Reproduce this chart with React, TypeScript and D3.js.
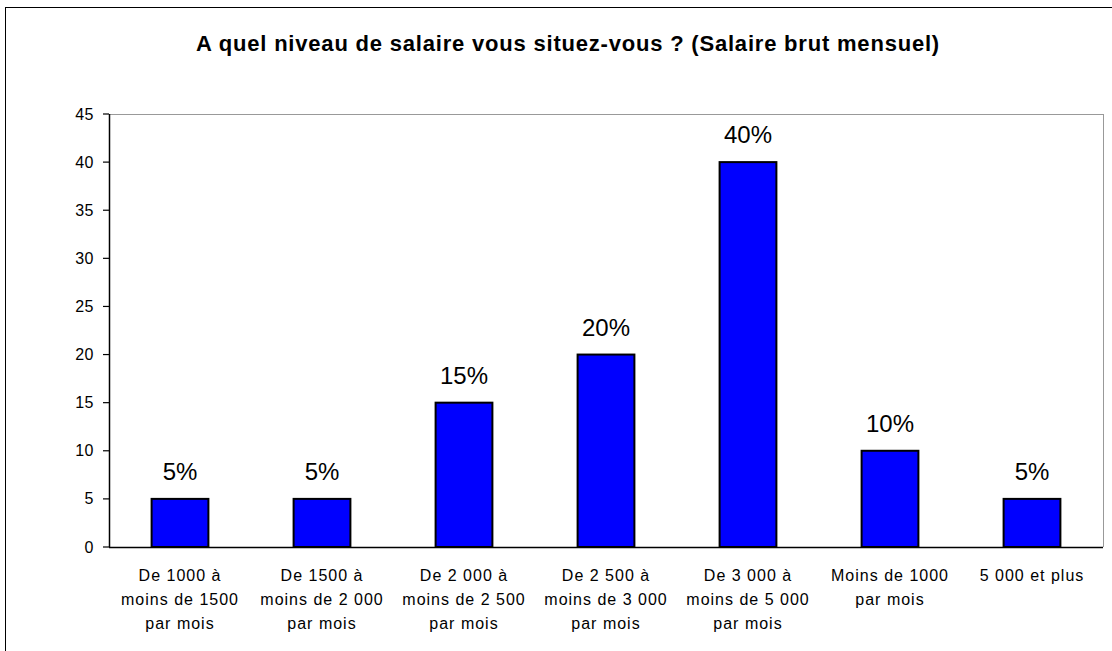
import React from 'react'
import { scaleBand, scaleLinear } from 'd3'

const title = 'A quel niveau de salaire vous situez-vous ? (Salaire brut mensuel)'
const categories = [
  ['De 1000  à', 'moins de 1500', 'par mois'],
  ['De 1500  à', 'moins de 2 000', 'par mois'],
  ['De 2 000 à', 'moins de 2 500', 'par mois'],
  ['De 2 500 à', 'moins de 3 000', 'par mois'],
  ['De 3 000 à', 'moins de 5 000', 'par mois'],
  ['Moins de 1000', 'par mois'],
  ['5 000 et plus'],
]
const values = [5, 5, 15, 20, 40, 10, 5]
const yTicks = [0, 5, 10, 15, 20, 25, 30, 35, 40, 45]

const W = 1112
const H = 651
const left = 109
const right = 1103
const top = 114
const bottom = 547

const App = () => {
  const x = scaleBand<number>()
    .domain(values.map((_, i) => i))
    .range([left, right])
    .paddingInner(0.6)
    .paddingOuter(0.3)
  const y = scaleLinear().domain([0, 45]).range([bottom, top])
  const font = '"Liberation Sans", Arial, sans-serif'

  return (
    <svg width={W} height={H} style={{ position: 'absolute', left: 0, top: 0, fontFamily: font }}>
      <rect x={0} y={0} width={W} height={H} fill="#fff" />
      <rect x={5.5} y={7.5} width={W + 10} height={H + 10} fill="none" stroke="#000" strokeWidth={1} />
      <text x={568} y={51} textAnchor="middle" fontSize={22} fontWeight="bold" letterSpacing={0.8}>{title}</text>

      {/* plot area border */}
      <line x1={left} x2={right} y1={top + 0.5} y2={top + 0.5} stroke="#999" />
      <line x1={right + 0.5} x2={right + 0.5} y1={top} y2={bottom} stroke="#999" />

      {values.map((v, i) => (
        <g key={i}>
          <rect
            x={x(i)}
            y={y(v)}
            width={x.bandwidth()}
            height={y(0) - y(v)}
            fill="#0000ff"
            stroke="#000"
            strokeWidth={2}
          />
          <text x={(x(i) as number) + x.bandwidth() / 2} y={y(v) - 19} textAnchor="middle" fontSize={24}>
            {v}%
          </text>
        </g>
      ))}

      {/* y axis */}
      <line x1={left + 0.5} x2={left + 0.5} y1={top} y2={bottom} stroke="#000" strokeWidth={1.5} />
      {yTicks.map((t) => (
        <g key={t}>
          <line x1={left - 6} x2={left} y1={y(t)} y2={y(t)} stroke="#000" strokeWidth={1.2} />
          <text x={94} y={y(t) + 5.5} textAnchor="end" fontSize={16} letterSpacing={0.5}>{t}</text>
        </g>
      ))}

      {/* x axis */}
      <line x1={left} x2={right} y1={bottom + 0.5} y2={bottom + 0.5} stroke="#000" strokeWidth={1.5} />
      {categories.map((lines, i) => {
        const cx = (x(i) as number) + x.bandwidth() / 2
        return (
          <text key={i} x={cx} y={581} textAnchor="middle" fontSize={16} letterSpacing={1}>
            {lines.map((l, j) => (
              <tspan key={j} x={cx} dy={j === 0 ? 0 : 24}>{l}</tspan>
            ))}
          </text>
        )
      })}
    </svg>
  )
}

export default App
